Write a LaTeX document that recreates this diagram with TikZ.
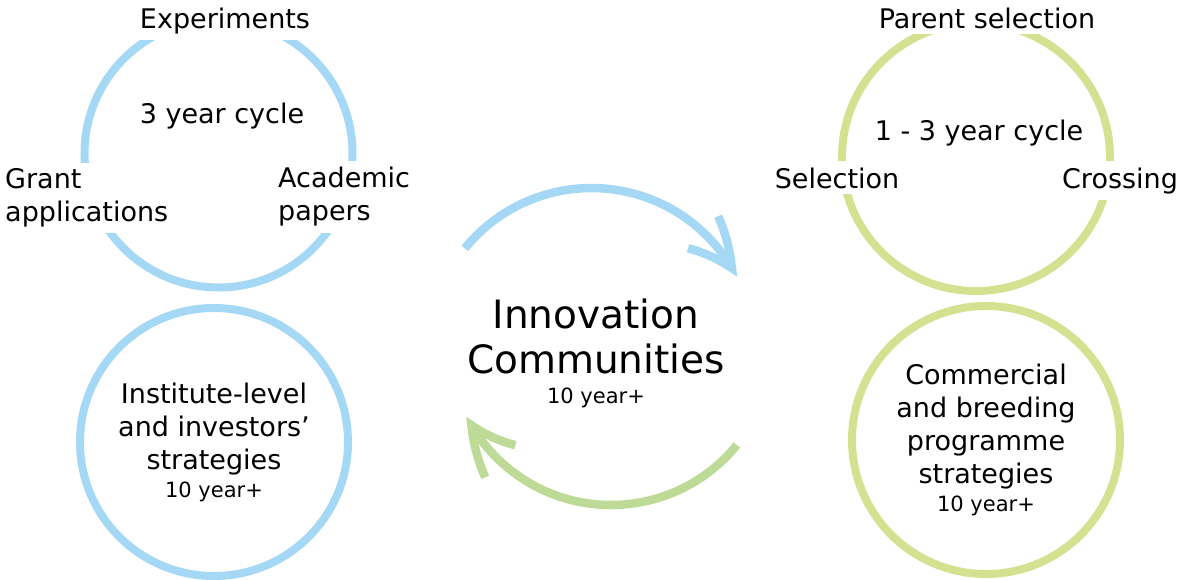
\documentclass[tikz,border=0pt]{standalone}
\usepackage{fontspec}
\setmainfont{DejaVu Sans}
\usetikzlibrary{arrows.meta,bending}

\definecolor{skyblue}{RGB}{165,216,244}
\definecolor{leafgreen}{RGB}{212,225,145}
\definecolor{arrowgreen}{RGB}{189,219,150}

\begin{document}
\begin{tikzpicture}[x=1pt, y=-1pt, inner sep=0pt]
  \tikzstyle{ring} = [circle, draw, line width=8pt, minimum size=268pt,
    inner sep=0pt, align=center, font=\fontsize{27}{33}\selectfont]
  \tikzstyle{bluering} = [ring, draw=skyblue]
  \tikzstyle{greenring} = [ring, draw=leafgreen]
  \tikzstyle{stage} = [fill=white, inner sep=6pt, font=\fontsize{27}{33}\selectfont]
  \tikzstyle{note} = [inner sep=0pt, font=\fontsize{27}{33}\selectfont]
  \tikzstyle{turn} = [line width=8.5pt]
  \tikzstyle{bluearrow} = [turn, draw=skyblue,
    -{Straight Barb[length=47pt, width=44pt, bend]}]
  \tikzstyle{greenarrow} = [turn, draw=arrowgreen,
    -{Straight Barb[length=47pt, width=44pt, bend]}]
  \newcommand{\spanfont}{\fontsize{21}{28}\selectfont}

  \useasboundingbox (0,0) rectangle (1181,579);

  % Place nodes
  \node [bluering] (research) at (218.5,153.5) {};
  \node [bluering] (institute) at (214,442) {Institute-level\\and investors’\\strategies\\[-5pt]
    {\spanfont 10 year+}};
  \node [greenring] (breeding) at (976,157) {};
  \node [greenring] (commercial) at (986,440) {Commercial\\and breeding\\programme\\strategies\\[-5pt]
    {\spanfont 10 year+}};

  \node [stage, anchor=base] (experiments) at (225,28) {Experiments};
  \node [note, anchor=base] (researchspan) at (222,123) {3 year cycle};
  \node [stage, anchor=west, align=left] (grants) at (-1,198) {Grant\\applications};
  \node [stage, anchor=west, align=left] (papers) at (272,197) {Academic\\papers};

  \node [stage, anchor=base] (parents) at (987,28) {Parent selection};
  \node [note, anchor=base] (breedingspan) at (979,140) {1 - 3 year cycle};
  \node [stage, anchor=base] (selection) at (837,188) {Selection};
  \node [stage, anchor=base] (crossing) at (1120,188) {Crossing};

  \node [align=center, font=\fontsize{39}{45}\selectfont] (hub) at (596,353)
    {Innovation\\Communities\\[-15pt]{\spanfont 10 year+}};

  \coordinate (blueorbit) at (591.5,351);
  \coordinate (greenorbit) at (611,343);

  % Draw edges
  \draw [bluearrow] (blueorbit) ++(-141:163) arc [start angle=-141, end angle=-27, radius=163];
  \draw [greenarrow] (greenorbit) ++(39:162) arc [start angle=39, end angle=153, radius=162];

\end{tikzpicture}
\end{document}
